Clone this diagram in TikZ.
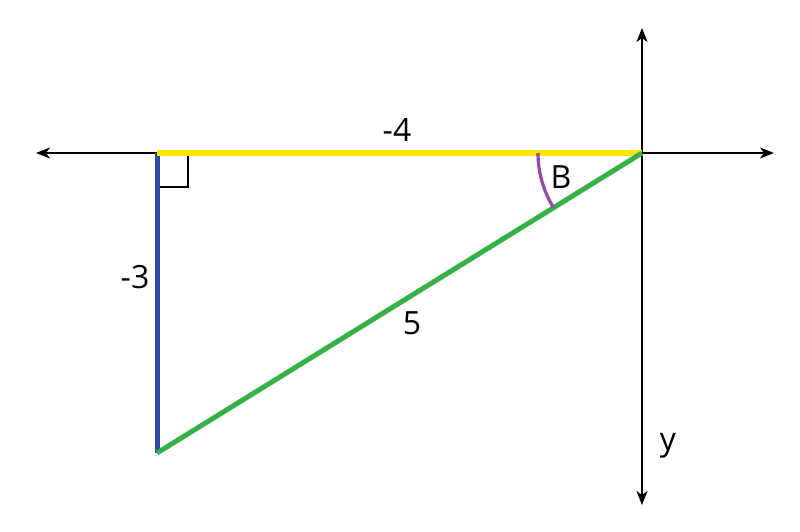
\documentclass[tikz,border=0pt]{standalone}
\usepackage{fontspec}
\setmainfont{Open Sans}
\usetikzlibrary{arrows.meta}
\definecolor{ylw}{RGB}{255,229,0}
\definecolor{blu}{RGB}{44,72,160}
\definecolor{grn}{RGB}{52,178,72}
\definecolor{prp}{RGB}{150,72,170}
\begin{document}
\begin{tikzpicture}[x=1pt,y=-1pt,
  axis/.style={line width=1.5pt,-{Stealth[length=14pt,width=11pt,inset=4pt]}},
  side/.style={line width=5pt},
  lbl/.style={font=\fontsize{32}{36}\selectfont,inner sep=0pt}]
\useasboundingbox (0,0) rectangle (800,532);
\coordinate (O) at (642,153);
\coordinate (A) at (157,153);
\coordinate (C) at (157,453);
\coordinate (L) at (36,153);
\coordinate (R) at (774,153);
\coordinate (T) at (642,28);
\coordinate (D) at (642,505);
\draw[axis] (O) -- (L);
\draw[axis] (O) -- (R);
\draw[axis] (O) -- (T);
\draw[axis] (O) -- (D);
\draw[line width=1.4pt] (157,187) -- (188,187) -- (188,153);
\draw[side,blu] (A) -- (C);
\draw[side,ylw,line width=5.5pt] (A) -- (O);
\draw[side,grn] (C) -- (O);
\draw[prp,line width=3.2pt] ([shift={(180:104)}]O) arc[start angle=180,end angle=148.2,radius=104];
\node[lbl] (n4) at (397,130) {-4};
\node[lbl] (n3) at (135,277) {-3};
\node[lbl] (n5) at (412,323) {5};
\node[lbl] (nB) at (561,177) {B};
\node[lbl] (ny) at (668,446) {y};
\end{tikzpicture}
\end{document}
